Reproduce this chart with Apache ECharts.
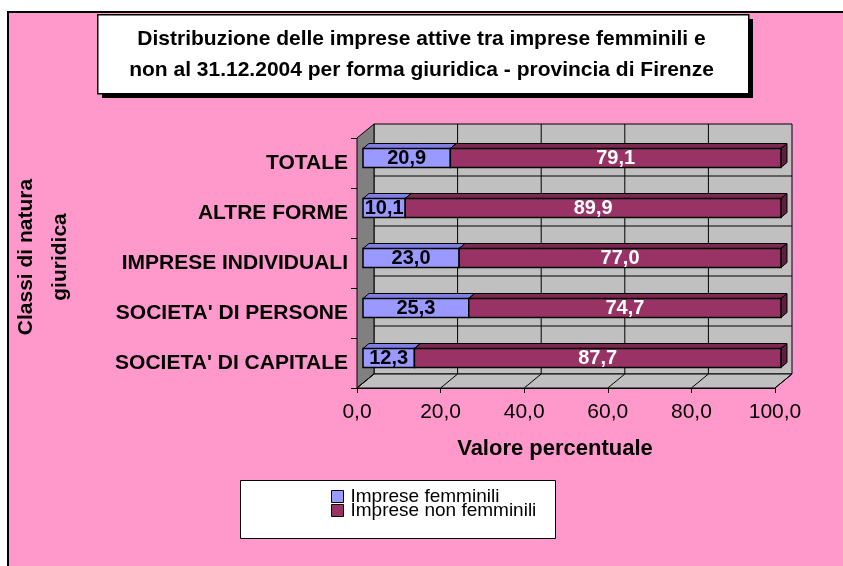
<!DOCTYPE html>
<html>
<head>
<meta charset="utf-8">
<script src="https://cdn.jsdelivr.net/npm/echarts@6/dist/echarts.min.js"></script>
<style>
html,body{margin:0;padding:0;background:#fff;width:843px;height:566px;overflow:hidden;}
#bg{position:absolute;left:7px;top:11px;width:900px;height:600px;background:#FF99CC;border-left:2px solid #000;border-top:2px solid #000;}
#chart{position:absolute;left:0;top:0;width:843px;height:566px;}
</style>
</head>
<body>
<div id="bg"></div>
<div id="chart"></div>
<script>
// ---- data ----
var categories = ["SOCIETA' DI CAPITALE", "SOCIETA' DI PERSONE", "IMPRESE INDIVIDUALI", "ALTRE FORME", "TOTALE"];
var femminili = [12.3, 25.3, 23.0, 10.1, 20.9];
var nonFemminili = [87.7, 74.7, 77.0, 89.9, 79.1];
var xTicks = [0, 20, 40, 60, 80, 100];
var seriesNames = ["Imprese femminili", "Imprese non femminili"];
var titleText = "Distribuzione delle imprese attive tra imprese femminili e\nnon al 31.12.2004 per forma giuridica - provincia di Firenze";

var FONT = "'Liberation Sans', Arial, Helvetica, sans-serif";
function fmt(v){ return v.toFixed(1).replace('.', ','); }

var chart = echarts.init(document.getElementById('chart'), null, {renderer:'canvas'});

var DX = 17, DY = -14;

function decorRender(params, api){
  var cs = params.coordSys;
  var L = cs.x, T = cs.y, R = cs.x + cs.width, B = cs.y + cs.height;
  var ch = [];
  ch.push({type:'rect', shape:{x:L+DX, y:T+DY, width:cs.width, height:cs.height}, style:{fill:'#C0C0C0', stroke:'#000', lineWidth:1}});
  xTicks.forEach(function(v){
    if (v === xTicks[0] || v === xTicks[xTicks.length-1]) return;
    var x = api.coord([v, 0])[0] + DX;
    ch.push({type:'line', shape:{x1:x, y1:T+DY, x2:x, y2:B+DY}, style:{stroke:'#000', lineWidth:1}});
  });
  for (var k = 1; k < categories.length; k++){
    var y = (api.coord([0, k-1])[1] + api.coord([0, k])[1]) / 2 + DY + 2;
    ch.push({type:'line', shape:{x1:L+DX, y1:y, x2:R+DX, y2:y}, style:{stroke:'#000', lineWidth:1}});
  }
  ch.push({type:'polygon', shape:{points:[[L,T],[L+DX,T+DY],[L+DX,B+DY],[L,B]]}, style:{fill:'#808080', stroke:'#000', lineWidth:1}});
  ch.push({type:'polygon', shape:{points:[[L,B],[R,B],[R+DX,B+DY],[L+DX,B+DY]]}, style:{fill:'#C0C0C0', stroke:'#000', lineWidth:1}});
  xTicks.forEach(function(v){
    var x = api.coord([v, 0])[0];
    ch.push({type:'line', shape:{x1:x, y1:B, x2:x+DX, y2:B+DY}, style:{stroke:'#000', lineWidth:1}});
  });
  return {type:'group', children:ch};
}

function barRender(fill, topC, sideC, labelColor){
  return function(params, api){
    var i = api.value(0), s = api.value(1), e = api.value(2), v = api.value(3);
    var p0 = api.coord([s, i]), p1 = api.coord([e, i]);
    var band = api.size([0, 1])[1];
    var h = band * 0.38;
    var ox = 6, oy = -5, dx = 6, dy = -5;
    var x0 = p0[0] + ox, x1 = p1[0] + ox, yc = p0[1] + oy, yt = yc - h/2, yb = yc + h/2;
    return {type:'group', children:[
      {type:'polygon', shape:{points:[[x0,yt],[x1,yt],[x1+dx,yt+dy],[x0+dx,yt+dy]]}, style:{fill:topC, stroke:'#000', lineWidth:1}},
      {type:'polygon', shape:{points:[[x1,yt],[x1+dx,yt+dy],[x1+dx,yb+dy],[x1,yb]]}, style:{fill:sideC, stroke:'#000', lineWidth:1}},
      {type:'rect', shape:{x:x0, y:yt, width:x1-x0, height:h}, style:{fill:fill, stroke:'#000', lineWidth:1.5}},
      {type:'text', x:(x0+x1)/2, y:yc, style:{text:fmt(v), fill:labelColor, font:'bold 20px ' + FONT, align:'center', verticalAlign:'middle', textAlign:'center', textVerticalAlign:'middle'}}
    ]};
  };
}

var femData = categories.map(function(c, i){ return [i, 0, femminili[i], femminili[i]]; });
var nonData = categories.map(function(c, i){ return [i, femminili[i], femminili[i] + nonFemminili[i], nonFemminili[i]]; });

var option = {
  backgroundColor: 'transparent',
  animation: false,
  textStyle: {fontFamily: FONT},
  title: {
    text: titleText,
    left: 'center',
    top: 19,
    textStyle: {fontFamily: FONT, fontSize: 21, fontWeight: 'bold', color: '#000', lineHeight: 31}
  },
  graphic: [
    {type:'rect', left:102, top:19, shape:{width:651, height:79}, style:{fill:'#000'}, z:0},
    {type:'rect', left:97, top:14, shape:{width:651, height:79}, style:{fill:'#fff', stroke:'#000', lineWidth:1.5}, z:1},
    {type:'rect', left:240, top:480, shape:{width:315, height:58}, style:{fill:'#fff', stroke:'#000', lineWidth:1}, z:1}
  ],
  legend: {
    orient: 'vertical',
    left: 326,
    top: 482,
    itemWidth: 12,
    itemHeight: 12,
    itemGap: -5,
    selectedMode: false,
    icon: 'rect',
    textStyle: {fontFamily: FONT, fontSize: 19, color: '#000', padding: [0,0,0,2]},
    data: [
      {name: seriesNames[0], itemStyle: {color: '#9999FF', borderColor: '#000', borderWidth: 1}},
      {name: seriesNames[1], itemStyle: {color: '#993366', borderColor: '#000', borderWidth: 1}}
    ]
  },
  grid: {left: 357, right: 68, top: 138, bottom: 178, containLabel: false},
  xAxis: {
    type: 'value', min: 0, max: 100, interval: 20,
    name: 'Valore percentuale', nameLocation: 'middle', nameGap: 50,
    nameTextStyle: {fontFamily: FONT, fontSize: 22, fontWeight: 'bold', color: '#000', padding: [0, 22, 0, 0]},
    axisLine: {show: true, lineStyle: {color: '#000', width: 1}},
    axisTick: {show: true, length: 5, inside: false, lineStyle: {color: '#000'}},
    axisLabel: {fontFamily: FONT, fontSize: 21, color: '#000', margin: 14, formatter: function(v){ return fmt(v); }},
    splitLine: {show: false}
  },
  yAxis: {
    type: 'category', data: categories,
    name: 'Classi di natura\ngiuridica', nameLocation: 'middle', nameRotate: 90, nameGap: 280,
    nameTextStyle: {fontFamily: FONT, fontSize: 21, fontWeight: 'bold', color: '#000', lineHeight: 34, padding: [0, 0, 0, 12]},
    axisLine: {show: true, lineStyle: {color: '#000', width: 1}},
    axisTick: {show: true, length: 6, lineStyle: {color: '#000'}},
    axisLabel: {fontFamily: FONT, fontSize: 21, fontWeight: 'bold', color: '#000', margin: 9},
    splitLine: {show: false}
  },
  series: [
    {type:'custom', name:'decor', silent:true, clip:false, z:1, renderItem: decorRender, data: [[0, 0]], encode: {x: 0, y: 1}},
    {type:'custom', name: seriesNames[0], clip:false, z:3, itemStyle:{color:'#9999FF'}, renderItem: barRender('#9999FF', '#7F7FE0', '#6666B3', '#000'), data: femData, encode: {x: [1, 2], y: 0}},
    {type:'custom', name: seriesNames[1], clip:false, z:4, itemStyle:{color:'#993366'}, renderItem: barRender('#993366', '#7A2952', '#5C1F3D', '#fff'), data: nonData, encode: {x: [1, 2], y: 0}}
  ]
};
chart.setOption(option);
</script>
</body>
</html>
